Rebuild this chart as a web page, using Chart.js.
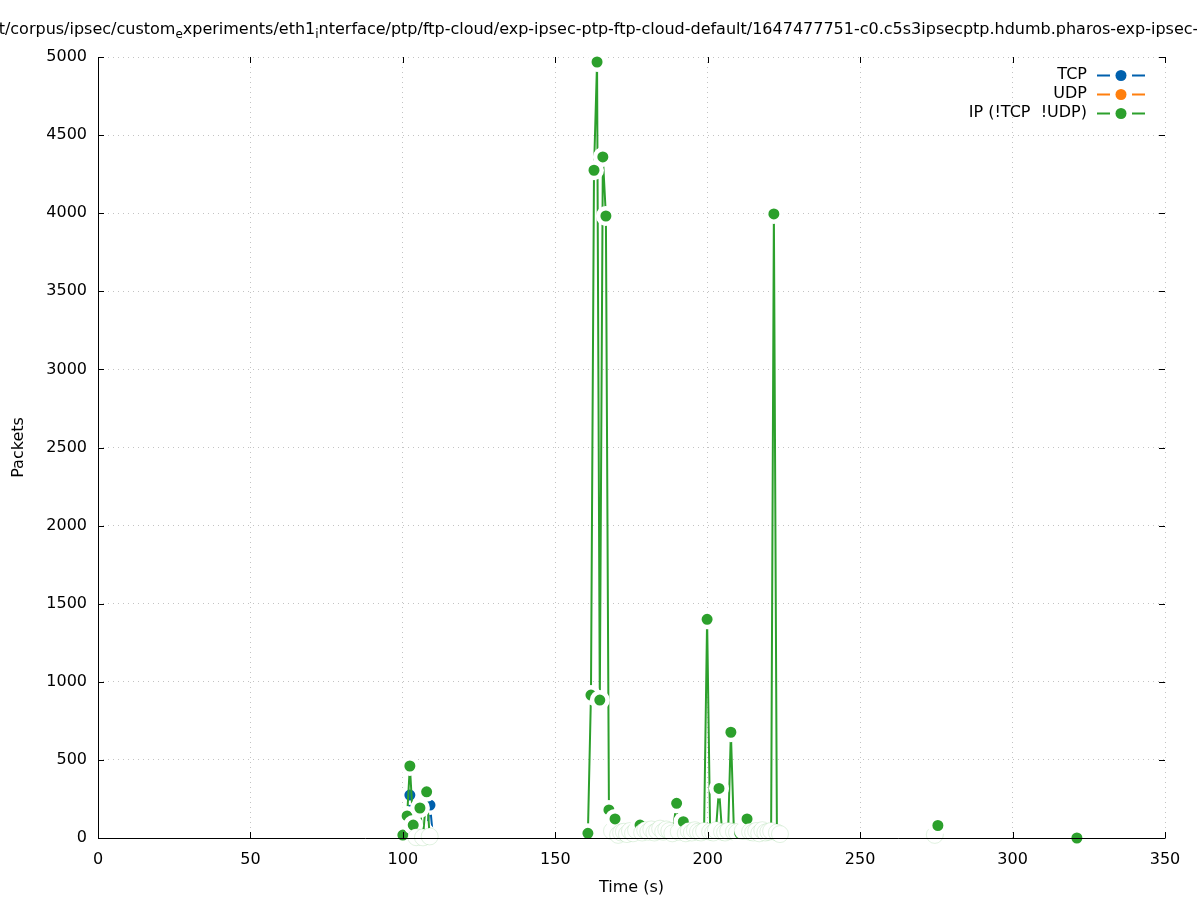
<!DOCTYPE html>
<html>
<head>
<meta charset="utf-8">
<title>Packets</title>
<script src="https://cdn.jsdelivr.net/npm/chart.js@4.4.1/dist/chart.umd.min.js"></script>
<style>
	html, body { margin: 0; padding: 0; background: #fff; }
	#wrap { width: 1197px; height: 900px; }
</style>
</head>
<body>
<div id="wrap"><canvas id="chart" width="1197" height="900"></canvas></div>
<script>
'use strict';

// Samples. "Quiet" samples are the low ones that the
// original only shows as blanked discs along the bottom.
var tcpTime = [102.3, 108.9];
var tcpCount = [275, 211];
var tcpQuietTime = [100.0, 101.4, 103.4, 104.4, 105.6, 106.6, 107.8, 109.9];
var tcpQuietCount = [2, 15, 8, 3, 6, 60, 30, 4];

var udpTime = [];
var udpCount = [];

var ipTime = [100.0, 101.4, 102.3, 103.4, 105.6, 107.8, 160.7, 161.7, 162.7, 163.7, 164.6, 165.6, 166.6,
	167.6, 169.6, 177.8, 189.8, 192.0, 199.8, 203.7, 207.6, 210.5, 212.9, 221.7, 275.5, 321.1];
var ipCount = [19, 141, 461, 83, 192, 296, 30, 915, 4275, 4968, 883, 4360, 3982,
	180, 122, 83, 222, 104, 1400, 317, 677, 30, 122, 3995, 80, 0];
var ipQuietTime = [104.4, 106.6, 108.8, 168.6, 170.6, 171.6, 172.5, 173.5, 174.5, 175.5, 176.5, 178.5,
	179.5, 180.5, 181.5, 182.5, 183.4, 184.4, 185.4, 186.4, 187.4, 188.4, 190.5, 192.8, 193.8, 194.8,
	195.8, 196.8, 197.8, 198.8, 200.8, 201.8, 202.7, 204.7, 205.7, 206.7, 208.6, 209.6, 211.5, 213.9,
	214.9, 215.9, 216.9, 217.9, 218.9, 219.9, 220.8, 222.7, 223.7, 274.5];
var ipQuietCount = [5, 4, 10, 45, 20, 35, 40, 25, 45, 30, 50, 35,
	50, 40, 55, 35, 45, 60, 40, 55, 45, 30, 40, 30, 45, 35,
	50, 40, 35, 45, 40, 35, 50, 40, 35, 45, 40, 35, 45, 40,
	35, 45, 30, 50, 35, 40, 45, 35, 25, 20];

var xTicks = [0, 50, 100, 150, 200, 250, 300, 350];
var yTicks = [0, 500, 1000, 1500, 2000, 2500, 3000, 3500, 4000, 4500, 5000];

var BLUE = '#0060ad', ORANGE = '#ff7f0e', GREEN = '#2ca02c';
var FONT = 'DejaVu Sans';

// merge shown + quiet samples in time order, break the line on gaps > 4 s
function series(time, count, qTime, qCount) {
	var pts = [], out = [], i;
	for (i = 0; i < time.length; i++) pts.push({x: time[i], y: count[i], quiet: false});
	for (i = 0; i < qTime.length; i++) pts.push({x: qTime[i], y: qCount[i], quiet: true});
	pts.sort(function (a, b) { return a.x - b.x; });
	pts.forEach(function (p, k) {
		if (k > 0 && p.x - pts[k - 1].x > 4) {
			out.push({x: (p.x + pts[k - 1].x) / 2, y: null});
		}
		out.push(p);
	});
	return out;
}

function dataset(label, color, pts, ring, order) {
	var isQuiet = function (c) { return c.raw && c.raw.quiet; };
	return {
		label: label,
		data: pts,
		order: order,
		borderColor: color,
		borderWidth: 2,
		tension: 0,
		spanGaps: false,
		clip: false,
		pointRadius: function (c) { return isQuiet(c) ? 8.5 : 7.75; },
		pointBorderWidth: function (c) { return isQuiet(c) ? 1 : 4.5; },
		pointBackgroundColor: function (c) { return isQuiet(c) ? '#fff' : color; },
		pointBorderColor: function (c) { return isQuiet(c) ? ring : '#fff'; },
		pointHoverRadius: 0
	};
}

var titleParts = [
	['t/corpus/ipsec/custom', false], ['e', true], ['xperiments/eth1', false], ['i', true],
	['nterface/ptp/ftp-cloud/exp-ipsec-ptp-ftp-cloud-default/1647477751-c0.c5s3ipsecptp.hdumb.pharos-exp-ipsec-', false]
];

var legendRows = [
	{label: 'TCP', color: BLUE},
	{label: 'UDP', color: ORANGE},
	{label: 'IP (!TCP  !UDP)', color: GREEN}
];

var decor = {
	id: 'decor',
	afterDatasetsDraw: function (chart) {
		var ctx = chart.ctx, a = chart.chartArea,
			xs = chart.scales.x, ys = chart.scales.y, tl = 6;

		ctx.save();
		ctx.strokeStyle = '#000';
		ctx.lineWidth = 1;
		ctx.beginPath();
		ctx.moveTo(a.left + 0.5, a.top);
		ctx.lineTo(a.left + 0.5, a.bottom + 0.5);
		ctx.lineTo(a.right + 0.5, a.bottom + 0.5);
		xs.ticks.forEach(function (t) {
			var px = Math.round(xs.getPixelForValue(t.value)) + 0.5;
			ctx.moveTo(px, a.bottom);
			ctx.lineTo(px, a.bottom - tl);
			ctx.moveTo(px, a.top);
			ctx.lineTo(px, a.top + tl);
		});
		ys.ticks.forEach(function (t) {
			var py = Math.round(ys.getPixelForValue(t.value)) + 0.5;
			ctx.moveTo(a.left, py);
			ctx.lineTo(a.left + tl, py);
			ctx.moveTo(a.right, py);
			ctx.lineTo(a.right - tl, py);
		});
		ctx.stroke();
		ctx.restore();
	},
	afterDraw: function (chart) {
		var ctx = chart.ctx, total = 0, x, y = 30;

		ctx.save();
		ctx.fillStyle = '#000';
		ctx.textBaseline = 'middle';
		titleParts.forEach(function (p) {
			ctx.font = (p[1] ? 12 : 16) + 'px "' + FONT + '"';
			total += ctx.measureText(p[0]).width;
		});
		x = 598.5 - total / 2;
		ctx.textAlign = 'left';
		titleParts.forEach(function (p) {
			ctx.font = (p[1] ? 12 : 16) + 'px "' + FONT + '"';
			ctx.fillText(p[0], x, p[1] ? y + 5 : y);
			x += ctx.measureText(p[0]).width;
		});

		// gnuplot-style key, top right inside the plot
		ctx.font = '16px "' + FONT + '"';
		ctx.textAlign = 'right';
		legendRows.forEach(function (r, i) {
			var ly = 75 + i * 19;
			ctx.fillStyle = '#000';
			ctx.fillText(r.label, 1087, ly);
			ctx.strokeStyle = r.color;
			ctx.lineWidth = 2;
			ctx.beginPath();
			ctx.moveTo(1097, ly + 0.5);
			ctx.lineTo(1110, ly + 0.5);
			ctx.moveTo(1132, ly + 0.5);
			ctx.lineTo(1145, ly + 0.5);
			ctx.stroke();
			ctx.fillStyle = r.color;
			ctx.beginPath();
			ctx.arc(1121, ly + 0.5, 5.5, 0, Math.PI * 2);
			ctx.fill();
		});
		ctx.restore();
	}
};

Chart.defaults.font.family = FONT;
Chart.defaults.font.size = 16;
Chart.defaults.color = '#000';

var grid = {
	color: 'rgba(170,170,170,0.7)',
	lineWidth: 1,
	drawTicks: false
};

var plain = function (v) { return String(v); };

new Chart(document.getElementById('chart'), {
	type: 'line',
	data: {
		datasets: [
			dataset('TCP', BLUE, series(tcpTime, tcpCount, tcpQuietTime, tcpQuietCount), '#fff', 3),
			dataset('UDP', ORANGE, series(udpTime, udpCount, [], []), '#fff', 2),
			dataset('IP (!TCP  !UDP)', GREEN, series(ipTime, ipCount, ipQuietTime, ipQuietCount), 'rgba(44,160,44,0.14)', 1)
		]
	},
	options: {
		responsive: false,
		animation: false,
		events: [],
		layout: {padding: {top: 57, right: 32, bottom: 0, left: 0}},
		plugins: {
			legend: {display: false},
			title: {display: false},
			tooltip: {enabled: false}
		},
		scales: {
			x: {
				type: 'linear',
				min: xTicks[0],
				max: xTicks[xTicks.length - 1],
				afterBuildTicks: function (s) { s.ticks = xTicks.map(function (v) { return {value: v}; }); },
				afterFit: function (s) { s.height = 62; },
				ticks: {padding: 12, maxRotation: 0, callback: plain},
				grid: grid,
				border: {display: false, dash: [1, 4]},
				title: {display: true, text: 'Time (s)', padding: {top: 0, bottom: 3}}
			},
			y: {
				min: yTicks[0],
				max: yTicks[yTicks.length - 1],
				afterBuildTicks: function (s) { s.ticks = yTicks.map(function (v) { return {value: v}; }); },
				afterFit: function (s) { s.width = 98; },
				ticks: {padding: 11, callback: plain},
				grid: grid,
				border: {display: false, dash: [1, 4]},
				title: {display: true, text: 'Packets', padding: {top: 9, bottom: 0}}
			}
		}
	},
	plugins: [decor]
});
</script>
</body>
</html>
